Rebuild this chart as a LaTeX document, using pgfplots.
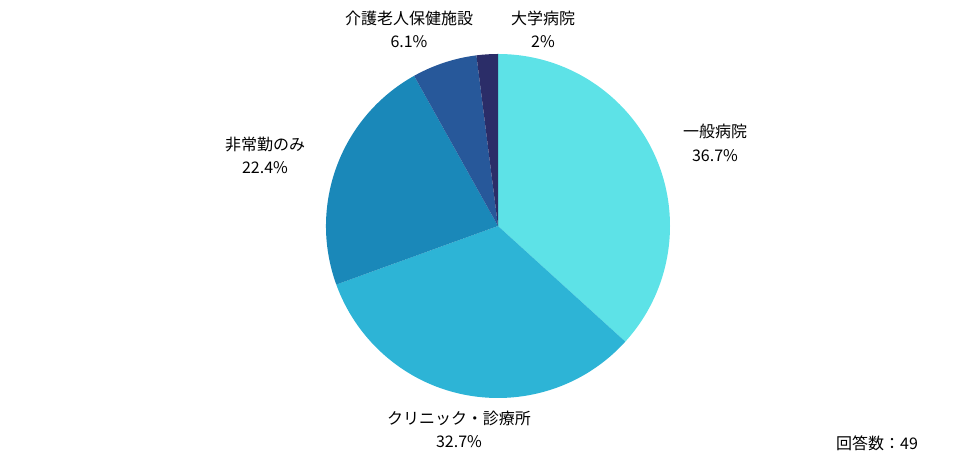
\documentclass[border=0pt]{standalone}
\usepackage{fontspec}
\setmainfont{Noto Sans CJK JP}
\usepackage{pgfplots}
\usepackage{pgfplotstable}
\pgfplotsset{compat=1.18}
\definecolor{slice0}{HTML}{5DE2E7}
\definecolor{slice1}{HTML}{2DB4D6}
\definecolor{slice2}{HTML}{1A88B9}
\definecolor{slice3}{HTML}{27589A}
\definecolor{slice4}{HTML}{2B2D68}
\pgfplotstableread[col sep=comma]{
name,value
一般病院,36.7
クリニック・診療所,32.7
非常勤のみ,22.4
介護老人保健施設,6.1
大学病院,2.0
}\piedata
\begin{document}
\begin{tikzpicture}
\begin{axis}[
  scale only axis, width=732pt, height=344.25pt,
  xmin=-498, xmax=478, ymin=-233, ymax=226,
  hide axis, clip=false,
]
\path (rel axis cs:0,0) rectangle (rel axis cs:1,1);
\pgfplotstablegetrowsof{\piedata}
\pgfmathtruncatemacro\N{\pgfplotsretval-1}
\def\cum{90}
\pgfplotsforeachungrouped \i in {0,...,\N}{
  \pgfplotstablegetelem{\i}{value}\of\piedata
  \pgfmathsetmacro\ang{\pgfplotsretval*360/99.9}
  \pgfmathsetmacro\endang{\cum-\ang}
  \pgfmathsetmacro\sx{172*cos(\cum)}
  \pgfmathsetmacro\sy{172*sin(\cum)}
  \edef\temp{\noexpand\fill[slice\i] (axis cs:0,0) -- (axis cs:\sx,\sy) arc[start angle=\cum, end angle=\endang, radius=129pt] -- cycle;}
  \temp
  \global\let\cum\endang
}
\tikzset{lbl/.style={align=center, font=\fontsize{12pt}{17.5pt}\selectfont, text=black, inner sep=0pt}}
\node[lbl] at (axis cs:217,83) {一般病院\\36.7\%};
\node[lbl] at (axis cs:-39,-203.5) {クリニック・診療所\\32.7\%};
\node[lbl] at (axis cs:-233,70.5) {非常勤のみ\\22.4\%};
\node[lbl] at (axis cs:-89,196.5) {介護老人保健施設\\6.1\%};
\node[lbl] at (axis cs:45,196.5) {大学病院\\2\%};
\node[lbl] at (axis cs:379,-217) {回答数：49};
\end{axis}
\end{tikzpicture}
\end{document}
